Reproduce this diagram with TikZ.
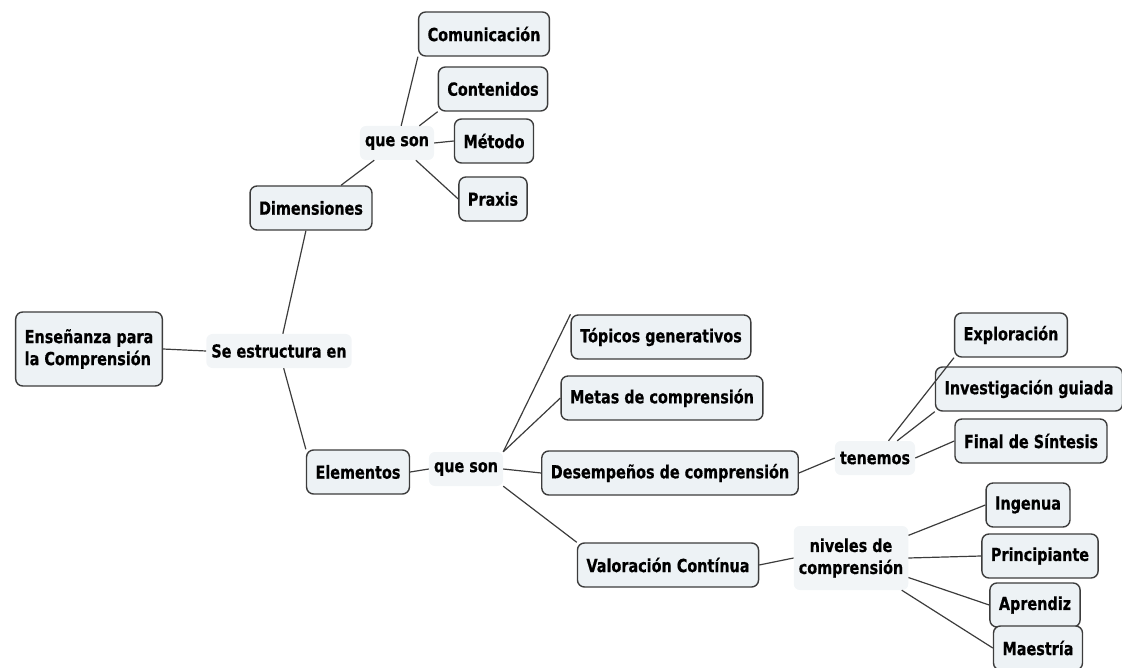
\documentclass[tikz,border=0pt]{standalone}
\usepackage{fontspec}
\setmainfont{DejaVu Sans}[FakeStretch=0.8, BoldFeatures={FakeBold=0.5}]
\usepackage{tikz}

\definecolor{boxfill}{HTML}{EDF2F5}
\definecolor{plainfill}{HTML}{F2F5F7}
\definecolor{edgecol}{HTML}{3C3C3C}

\begin{document}
\begin{tikzpicture}[x=1pt, y=-1pt,
    topic/.style={draw=edgecol, line width=1.4pt, fill=boxfill, rounded corners=7pt,
                  font=\fontsize{18}{22}\selectfont\bfseries, inner xsep=9pt, minimum height=44pt},
    link/.style={fill=plainfill, rounded corners=6pt,
                 font=\fontsize{18}{22}\selectfont\bfseries, inner xsep=5pt, minimum height=34pt},
    branch/.style={draw=edgecol, line width=1.2pt}]
    \useasboundingbox (0,0) rectangle (1122,668);

    % root
    \node [topic, align=left, minimum height=74pt] (ens) at (89,349) {Enseñanza para\\la Comprensión};
    \node [link] (se) at (279,351) {Se estructura en};

    % upper branch: dimensiones
    \node [topic] (dim)  at (311,208) {Dimensiones};
    \node [link]  (qs1)  at (397,143) {que son};
    \node [topic] (com)  at (484,34)  {Comunicación};
    \node [topic] (cont) at (493,89)  {Contenidos};
    \node [topic] (met)  at (494,141) {Método};
    \node [topic] (pra)  at (493,199) {Praxis};

    % lower branch: elementos
    \node [topic] (elem) at (358,472) {Elementos};
    \node [link]  (qs2)  at (466,469) {que son};
    \node [topic] (top)  at (661,337) {Tópicos generativos};
    \node [topic] (meta) at (662,398) {Metas de comprensión};
    \node [topic] (des)  at (670,473) {Desempeños de comprensión};
    \node [topic] (val)  at (668,565) {Valoración Contínua};

    % desempeños
    \node [link]  (ten) at (875,458)  {tenemos};
    \node [topic] (exp) at (1011,335) {Exploración};
    \node [topic] (inv) at (1029,389) {Investigación guiada};
    \node [topic] (fin) at (1031,441) {Final de Síntesis};

    % niveles
    \node [link, align=center, minimum height=64pt] (niv) at (851,558) {niveles de\\comprensión};
    \node [topic] (ing) at (1028,505) {Ingenua};
    \node [topic] (pri) at (1040,556) {Principiante};
    \node [topic] (apr) at (1035,605) {Aprendiz};
    \node [topic] (mae) at (1038,648) {Maestría};

    % connectors
    \draw [branch] (ens.east) -- (se.west);
    \draw [branch] (se) -- (dim);
    \draw [branch] (se) -- (elem.north west);
    \draw [branch] (dim) -- (qs1);
    \draw [branch] (qs1) -- (com.south west);
    \draw [branch] (qs1) -- (cont.south west);
    \draw [branch] (qs1.east) -- (met.west);
    \draw [branch] (qs1) -- (pra.west);
    \draw [branch] (elem.east) -- (qs2.west);
    \draw [branch] (qs2.north east) -- (top.north west);
    \draw [branch] (qs2.north east) -- (meta.west);
    \draw [branch] (qs2.east) -- (des.west);
    \draw [branch] (qs2.south east) -- (val.north west);
    \draw [branch] (des.east) -- (ten.west);
    \draw [branch] (ten) -- (exp.south west);
    \draw [branch] (ten) -- (inv.south west);
    \draw [branch] (ten.east) -- (fin.west);
    \draw [branch] (val.east) -- (niv.west);
    \draw [branch] (niv) -- (ing.west);
    \draw [branch] (niv.east) -- (pri.west);
    \draw [branch] (niv) -- (apr.west);
    \draw [branch] (niv) -- (mae.west);
\end{tikzpicture}
\end{document}
